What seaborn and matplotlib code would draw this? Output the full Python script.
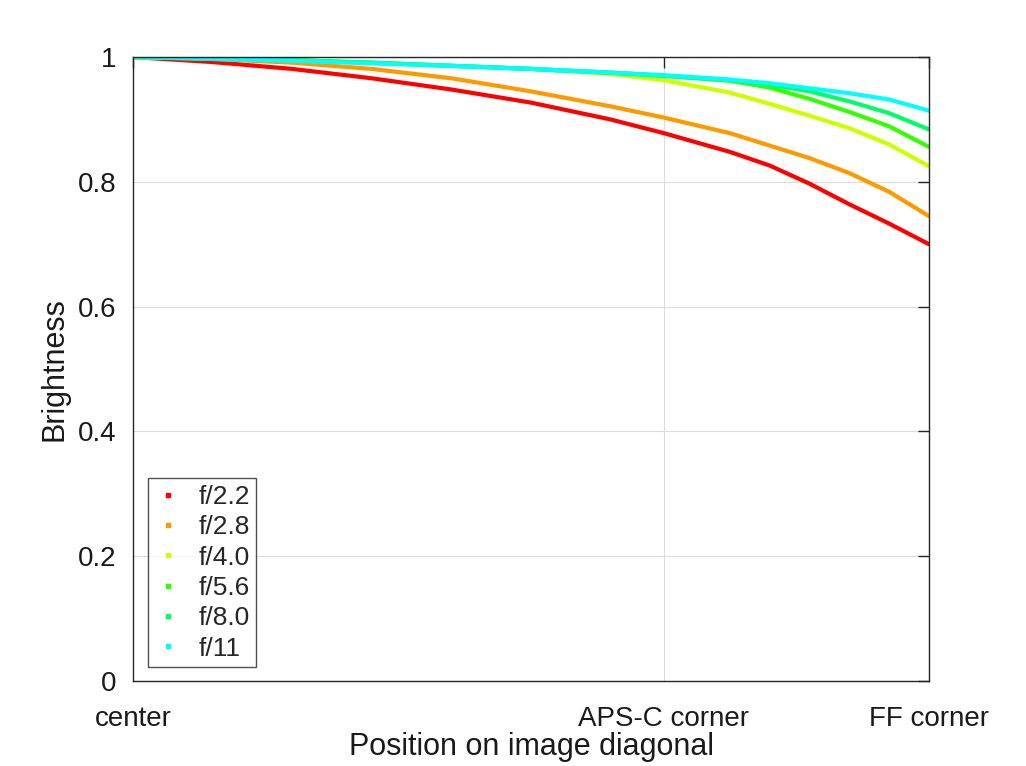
import numpy as np
import pandas as pd
import matplotlib
matplotlib.use("Agg")
import matplotlib.pyplot as plt
import seaborn as sns

# position along the diagonal (0 = center, 1 = FF corner)
position = [0, 0.1, 0.2, 0.3, 0.4, 0.5, 0.6, 0.667, 0.75, 0.8, 0.85, 0.9, 0.95, 1.0]

f22 = [1.0, 0.992, 0.981, 0.966, 0.948, 0.927, 0.900, 0.878, 0.848, 0.826, 0.797, 0.764, 0.733, 0.700]
f28 = [1.0, 0.997, 0.991, 0.981, 0.966, 0.945, 0.921, 0.903, 0.878, 0.858, 0.838, 0.814, 0.784, 0.745]
f40 = [1.0, 0.998, 0.995, 0.991, 0.986, 0.981, 0.973, 0.963, 0.943, 0.925, 0.906, 0.886, 0.860, 0.825]
f56 = [1.0, 0.998, 0.995, 0.991, 0.986, 0.981, 0.975, 0.970, 0.962, 0.951, 0.933, 0.912, 0.889, 0.856]
f80 = [1.0, 0.998, 0.995, 0.991, 0.986, 0.981, 0.975, 0.970, 0.963, 0.956, 0.945, 0.929, 0.910, 0.884]
f11 = [1.0, 0.997, 0.994, 0.990, 0.986, 0.981, 0.975, 0.971, 0.964, 0.958, 0.950, 0.942, 0.932, 0.914]

apertures = ["f/2.2", "f/2.8", "f/4.0", "f/5.6", "f/8.0", "f/11"]
series = [f22, f28, f40, f56, f80, f11]
colores = ["#ff0000", "#ff9900", "#ccff00", "#33ff00", "#00ff66", "#00ffff"]

xtick_pos = [0, 0.667, 1.0]
xtick_labels = ["center", "APS-C corner", "FF corner"]
ytick_pos = [0, 0.2, 0.4, 0.6, 0.8, 1.0]
ytick_labels = ["0", "0.2", "0.4", "0.6", "0.8", "1"]

df = pd.concat(
    [pd.DataFrame({"pos": position, "brightness": s, "aperture": a}) for a, s in zip(apertures, series)],
    ignore_index=True,
)

sns.set_style("white")
plt.rcParams["font.family"] = ["Liberation Sans", "DejaVu Sans"]

fig = plt.figure(figsize=(10.26, 7.66), dpi=100)
ax = fig.add_axes([0.1296, 0.111, 0.7759, 0.8145])

sns.lineplot(data=df, x="pos", y="brightness", hue="aperture", hue_order=apertures,
             palette=colores, linewidth=3, ax=ax, legend=False)

ax.set_xlim(0, 1)
ax.set_ylim(0, 1)
ax.set_xticks(xtick_pos)
ax.set_xticklabels(xtick_labels)
ax.set_yticks(ytick_pos)
ax.set_yticklabels(ytick_labels)
ax.grid(True, color="#dcdcdc", linewidth=0.8)
ax.set_axisbelow(True)

for s in ax.spines.values():
    s.set_color("#262626")
    s.set_linewidth(1.0)

ax.tick_params(axis="both", direction="in", length=8, width=1, color="#262626",
               top=True, right=True, labelsize=20, labelcolor="#1a1a1a")
ax.tick_params(axis="x", pad=18)
ax.tick_params(axis="y", pad=12)

ax.set_xlabel("Position on image diagonal", fontsize=22, color="#1a1a1a", labelpad=0)
ax.set_ylabel("Brightness", fontsize=22, color="#1a1a1a", labelpad=6)

# legend with small dots like the original
handles = [plt.Line2D([], [], color=c, marker="s", markersize=3, linestyle="none") for c in colores]
leg = ax.legend(handles, apertures, loc="lower left", bbox_to_anchor=(0.019, 0.022),
                fontsize=19, frameon=True, fancybox=False, handlelength=1.0,
                handletextpad=0.65, labelspacing=0.24, borderpad=0.25, borderaxespad=0)
leg.get_frame().set_edgecolor("#262626")
leg.get_frame().set_linewidth(1.0)

fig.savefig("out.png", dpi=100)
